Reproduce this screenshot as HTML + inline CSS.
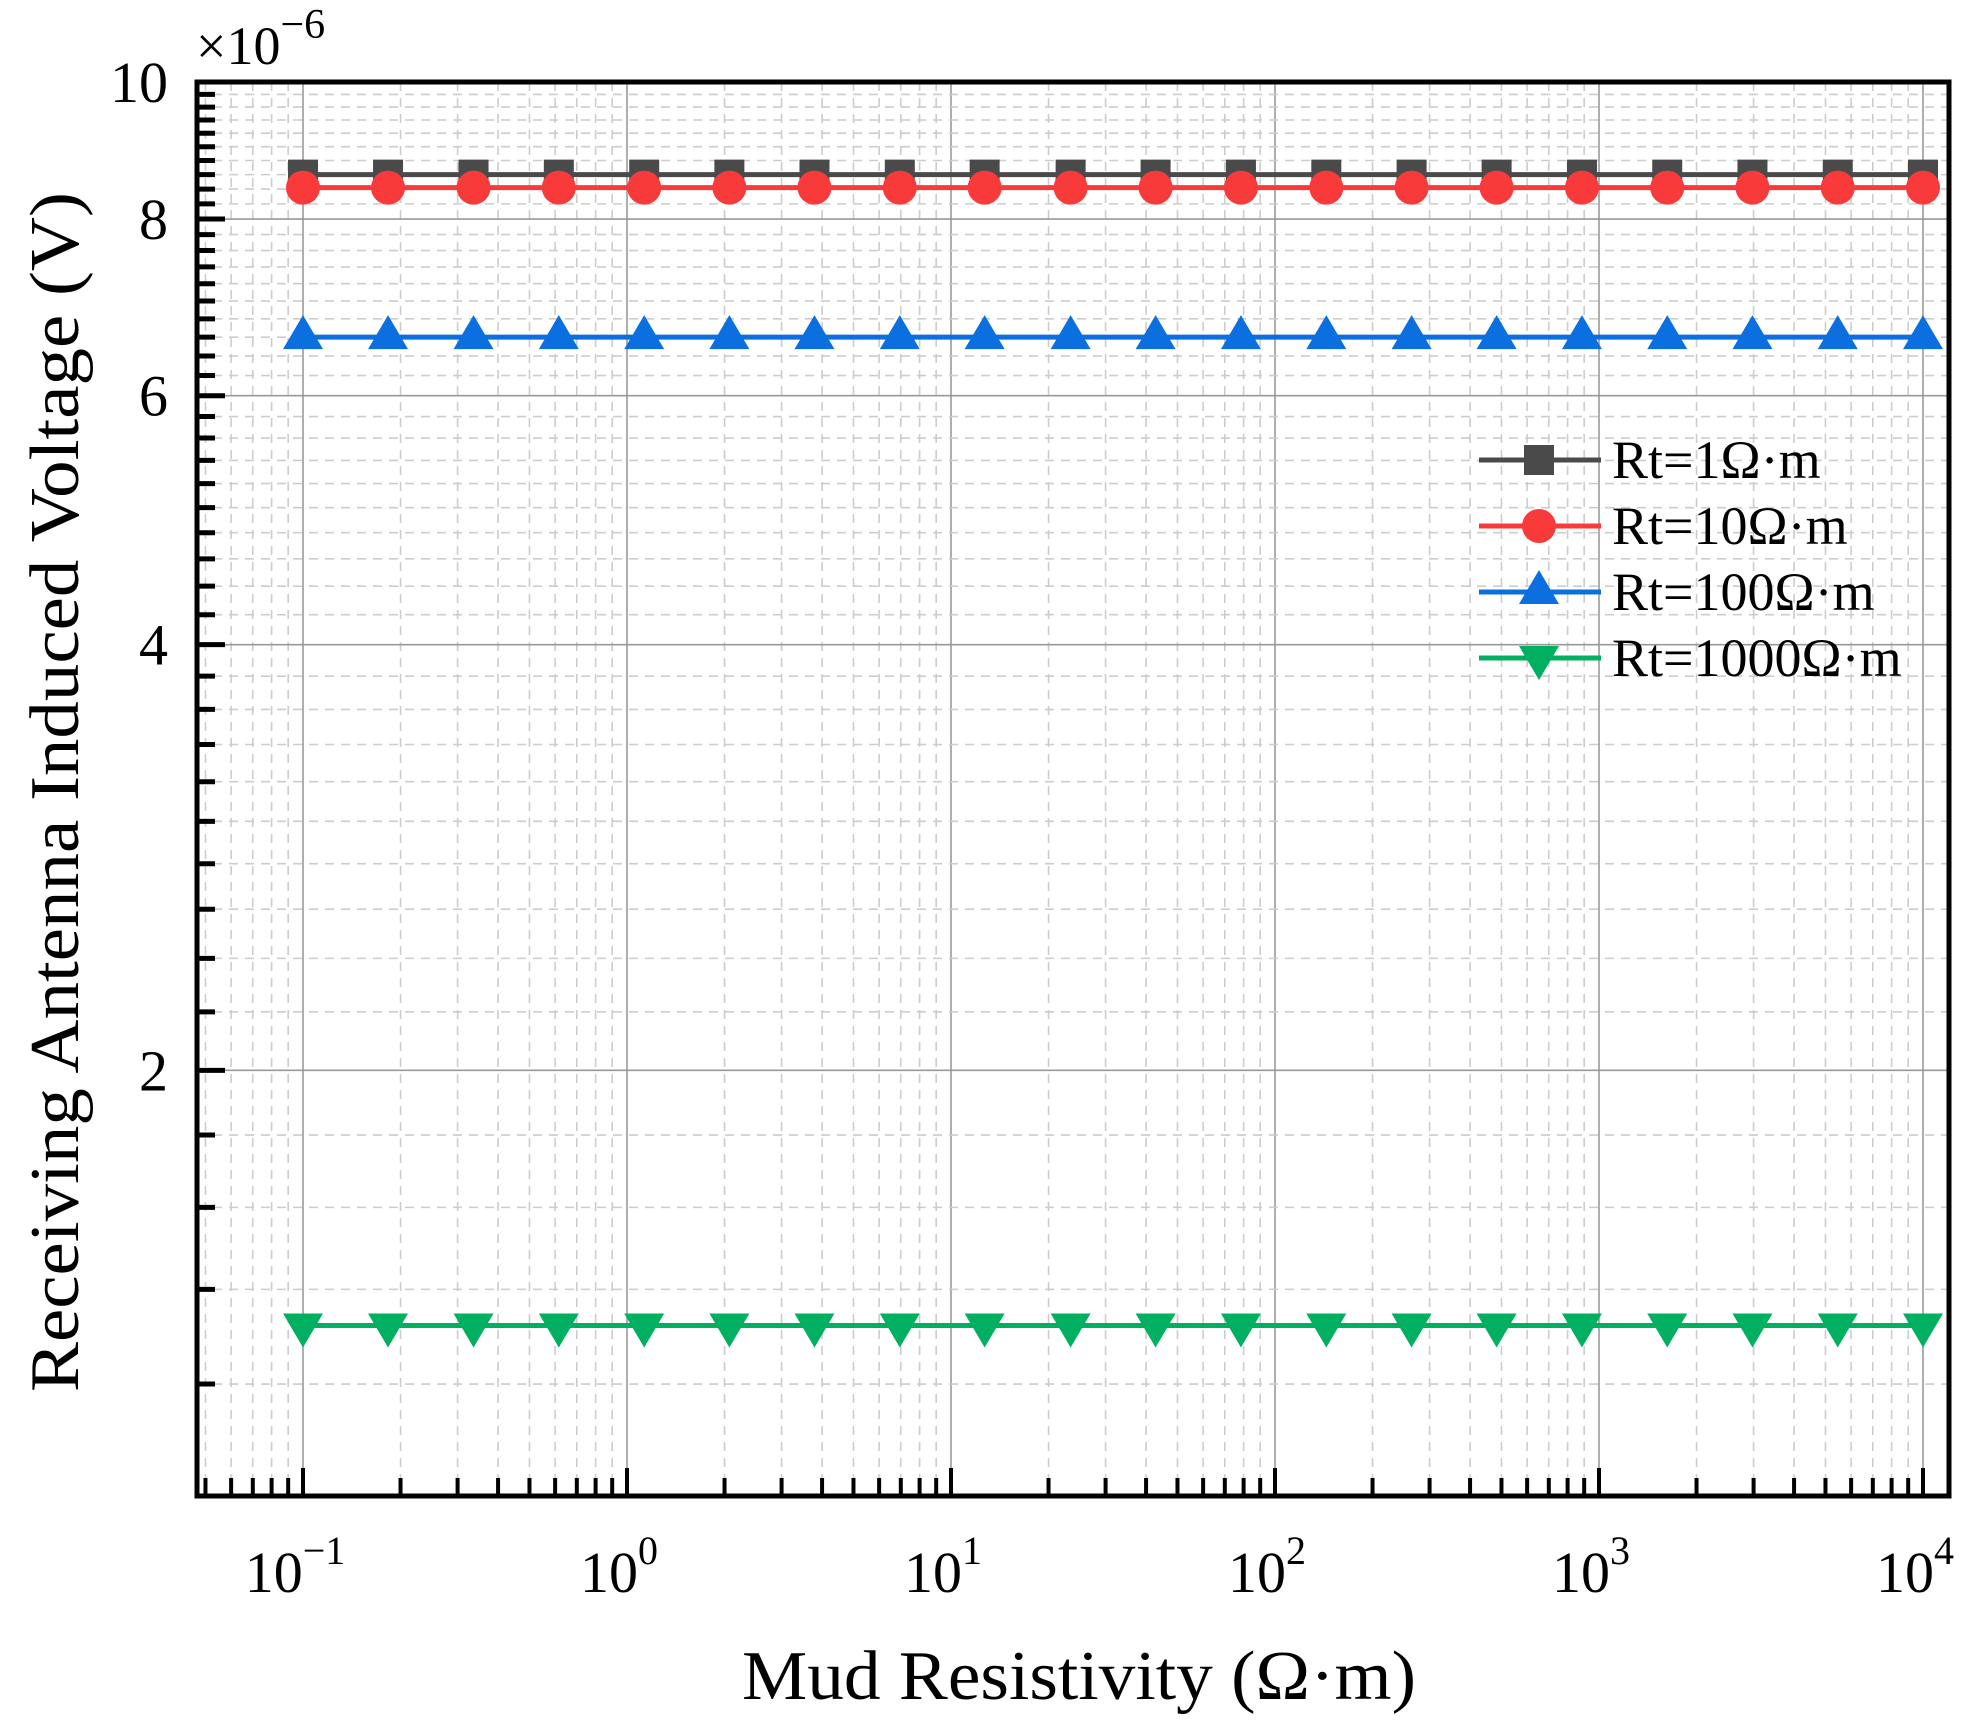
<!DOCTYPE html>
<html><head><meta charset="utf-8"><style>
html,body{margin:0;padding:0;background:#fff;}
svg{display:block;font-family:"Liberation Serif",serif;}
</style></head><body>
<svg id="chart" width="1984" height="1722" viewBox="0 0 1984 1722">
<g id="grid"></g>
<g id="axes"></g>
<g id="series"></g>
<g id="legend"></g>
<text x="196" y="64" font-size="54">×10<tspan dy="-26" font-size="42">−6</tspan></text>
<text transform="translate(78,792) rotate(-90)" text-anchor="middle" font-size="70" textLength="1200" lengthAdjust="spacingAndGlyphs">Receiving Antenna Induced Voltage (V)</text>
<text x="1079" y="1699" text-anchor="middle" font-size="70" textLength="674" lengthAdjust="spacingAndGlyphs">Mud Resistivity (Ω·m)</text>
</svg>
<script>
const xValues=[0.1,0.183,0.336,0.616,1.13,2.07,3.79,6.95,12.7,23.4,42.8,78.5,144,264,483,886,1624,2976,5456,10000];
const seriesRt1=[8.6,8.6,8.6,8.6,8.6,8.6,8.6,8.6,8.6,8.6,8.6,8.6,8.6,8.6,8.6,8.6,8.6,8.6,8.6,8.6];
const seriesRt10=[8.42,8.42,8.42,8.42,8.42,8.42,8.42,8.42,8.42,8.42,8.42,8.42,8.42,8.42,8.42,8.42,8.42,8.42,8.42,8.42];
const seriesRt100=[6.6,6.6,6.6,6.6,6.6,6.6,6.6,6.6,6.6,6.6,6.6,6.6,6.6,6.6,6.6,6.6,6.6,6.6,6.6,6.6];
const seriesRt1000=[1.32,1.32,1.32,1.32,1.32,1.32,1.32,1.32,1.32,1.32,1.32,1.32,1.32,1.32,1.32,1.32,1.32,1.32,1.32,1.32];
const xTickExps=[-1,0,1,2,3,4];
const yTickLabels=[2,4,6,8,10];
const legendLabels=["Rt=1Ω·m","Rt=10Ω·m","Rt=100Ω·m","Rt=1000Ω·m"];

const NS="http://www.w3.org/2000/svg";
const L=197,R=1949,T=82,B=1496;
const X0=303,DEC=324;
const xs=v=>X0+(Math.log10(v)+1)*DEC;
const ys=v=>B-Math.log10(v)*(B-T);
function mk(p,tag,a){const e=document.createElementNS(NS,tag);for(const k in a)e.setAttribute(k,a[k]);p.appendChild(e);return e;}
const grid=document.getElementById('grid'),axes=document.getElementById('axes'),ser=document.getElementById('series'),leg=document.getElementById('legend');

for(let e=-2;e<=4;e++){for(let m=1;m<=9;m++){const v=m*Math.pow(10,e);const x=xs(v);if(x<=L+2||x>=R-2)continue;
 const g=mk(grid,'line',{x1:x,x2:x,y1:T,y2:B,stroke:m===1?'#999':'#ccc','stroke-width':1.6,'stroke-dasharray':m===1?'':'9 7'});
 
 
 const t=mk(axes,'line',{x1:x,x2:x,y1:B,y2:B-(m===1?28:18),stroke:'#000','stroke-width':4});
 
 }}
for(let i=6;i<50;i++){const v=i*0.2;const y=ys(v);const major=(i%10===0);
 const g=mk(grid,'line',{x1:L,x2:R,y1:y,y2:y,stroke:major?'#999':'#ccc','stroke-width':1.6,'stroke-dasharray':major?'':'9 7'});
 
 
 const t=mk(axes,'line',{x1:L,x2:L+(major?28:18),y1:y,y2:y,stroke:'#000','stroke-width':5});
 
 }
const frame=mk(axes,'rect',{x:L,y:T,width:R-L,height:B-T,fill:'none',stroke:'#000','stroke-width':5});


xTickExps.forEach(e=>{const x=xs(Math.pow(10,e));
 const t=mk(axes,'text',{x:x-8,y:1592,'text-anchor':'middle','font-size':58});
 t.textContent='10';
 const s=mk(t,'tspan',{dy:-28,'font-size':40});s.textContent=(e<0?'−':'')+Math.abs(e);
 
 });
yTickLabels.forEach(v=>{const t=mk(axes,'text',{x:168,y:ys(v)+20,'text-anchor':'end','font-size':58});t.textContent=v;
 
 });

function marker(p,type,x,y,c){
 if(type==='square')return mk(p,'rect',{x:x-15,y:y-15,width:30,height:30,fill:c});
 if(type==='circle')return mk(p,'circle',{cx:x,cy:y,r:17,fill:c});
 if(type==='up')return mk(p,'polygon',{points:`${x},${y-22} ${x-20},${y+12} ${x+20},${y+12}`,fill:c});
 return mk(p,'polygon',{points:`${x},${y+22} ${x-20},${y-12} ${x+20},${y-12}`,fill:c});}
const defs=[[seriesRt1,'#4a4a4a','square'],[seriesRt10,'#f83a3a','circle'],[seriesRt100,'#0b6fe0','up'],[seriesRt1000,'#00b060','down']];
defs.forEach(([d,c,t],k)=>{const g=mk(ser,'g',{});
 
 
 mk(g,'polyline',{points:xValues.map((x,i)=>xs(x)+','+ys(d[i])).join(' '),fill:'none',stroke:c,'stroke-width':5});
 xValues.forEach((x,i)=>{const m=marker(g,t,xs(x),ys(d[i]),c);
  
  });});
defs.forEach(([d,c,t],k)=>{const y=460+k*66;const g=mk(leg,'g',{});
 
 
 mk(g,'line',{x1:1479,x2:1601,y1:y,y2:y,stroke:c,'stroke-width':5});
 marker(g,t,1539,y,c);
 const tx=mk(g,'text',{x:1612,y:y+18,'font-size':54});tx.textContent=legendLabels[k];});
</script>
</body></html>
